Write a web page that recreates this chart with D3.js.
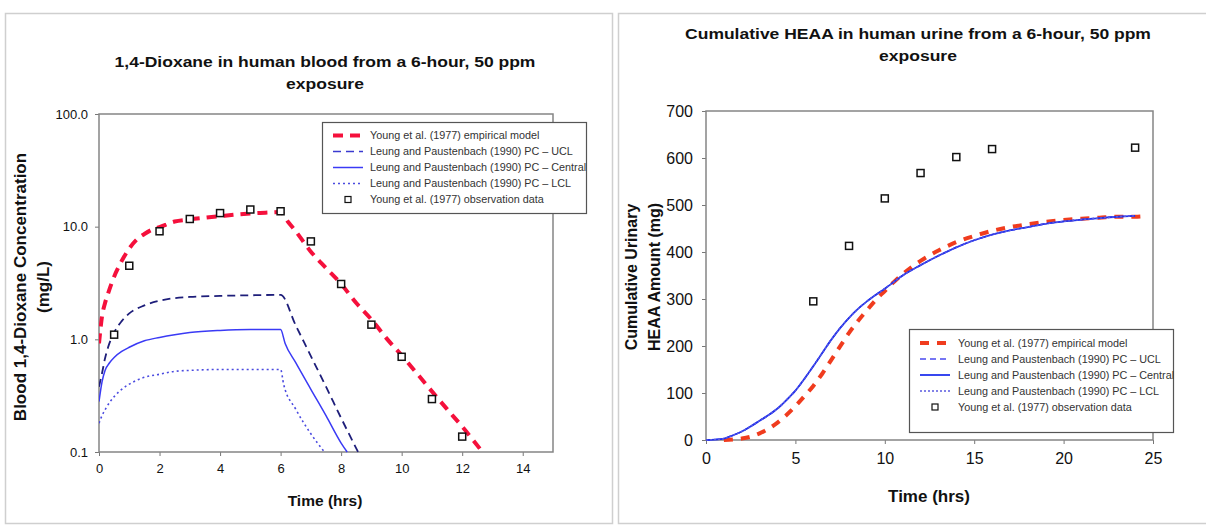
<!DOCTYPE html>
<html>
<head>
<meta charset="utf-8">
<script src="https://cdnjs.cloudflare.com/ajax/libs/d3/7.8.5/d3.min.js"></script>
<style>
  body { margin: 0; background: #fff; }
  svg { display: block; font-family: "Liberation Sans", Arial, sans-serif; }
</style>
</head>
<body>
<svg id="chart" width="1206" height="527"></svg>
<script>
// ---- left chart: blood concentration (mg/L), log scale ----
const bloodEmpirical = [[0,0.92],[0.1,1.6],[0.2,2.1],[0.3,2.55],[0.5,3.6],[0.65,4.4],[1,6.4],[1.25,7.7],[1.5,8.6],[1.75,9.4],[2,9.9],[2.5,11.1],[3,11.6],[3.5,12],[4,12.4],[4.5,12.8],[5,13.1],[5.5,13.3],[6,13.5],[6.25,11],[6.5,9.1],[7,6.0],[7.5,4.3],[8,3.1],[8.5,2.1],[9,1.5],[9.5,1.02],[10,0.72],[10.5,0.5],[11,0.345],[11.5,0.24],[12,0.168],[12.67,0.1]];
const bloodUCL = [[0,0.38],[0.1,0.5],[0.2,0.68],[0.3,0.85],[0.5,1.15],[0.75,1.45],[1,1.7],[1.5,2.0],[2,2.2],[2.5,2.32],[3,2.38],[4,2.43],[5,2.46],[6,2.48],[6.5,1.33],[7,0.71],[7.5,0.38],[8,0.2],[8.56,0.1]];
const bloodCentral = [[0,0.28],[0.1,0.42],[0.2,0.53],[0.35,0.62],[0.5,0.69],[0.75,0.78],[1,0.85],[1.5,0.97],[2,1.04],[2.5,1.1],[3,1.15],[4,1.2],[5,1.22],[6,1.22],[6.15,0.92],[6.5,0.62],[7,0.36],[7.5,0.21],[8,0.12],[8.2,0.1]];
const bloodLCL = [[0,0.18],[0.1,0.21],[0.25,0.25],[0.5,0.31],[0.75,0.36],[1,0.4],[1.5,0.46],[2,0.49],[2.5,0.52],[3,0.53],[4,0.54],[5,0.54],[6,0.54],[6.1,0.4],[6.5,0.24],[7,0.145],[7.45,0.1]];
const bloodObs = [[0.5,1.1],[1,4.5],[2,9.1],[3,11.7],[4,13.2],[5,14.2],[6,13.7],[7,7.4],[8,3.1],[9,1.35],[10,0.7],[11,0.295],[12,0.137]];
const bloodXTicks = [0, 2, 4, 6, 8, 10, 12, 14];
const bloodYTicks = [0.1, 1, 10, 100];

// ---- right chart: cumulative urinary HEAA (mg) ----
const urineEmpirical = [[1,0],[1.5,1],[2,3],[2.5,7],[3,14],[3.5,24],[4,37],[4.5,53],[5,72],[5.5,93],[6,115],[6.5,141],[7,170],[7.5,199],[8,228],[8.5,253],[9,276],[9.5,298],[10,317],[10.5,336],[11,353],[12,381],[13,403],[14,421],[15,434],[16,445],[17,453],[18,459],[19,464],[20,468],[21,471],[22,473],[23,475],[24,475],[24.5,476]];
const urineCentral = [[0,0],[0.5,1],[1,3],[1.5,10],[2,18],[2.5,29],[3,41],[3.5,53],[4,67],[4.5,85],[5,105],[5.5,130],[6,157],[6.5,185],[7,213],[7.5,238],[8,260],[8.5,279],[9,295],[9.5,309],[10,322],[11,350],[12,372],[13,392],[14,410],[15,425],[16,437],[17,446],[18,453],[19,460],[20,465],[21,469],[22,472],[23,475],[24,477]];
// UCL and LCL lie under the central curve in the picture
const urineUCL = urineCentral;
const urineLCL = urineCentral;
const urineObs = [[6,295],[8,413],[10,514],[12,568],[14,602],[16,619],[24,622]];
const urineXTicks = [0, 5, 10, 15, 20, 25];
const urineYTicks = [0, 100, 200, 300, 400, 500, 600, 700];

const legendLabels = [
  "Young et al. (1977) empirical model",
  "Leung and Paustenbach (1990) PC \u2013 UCL",
  "Leung and Paustenbach (1990) PC \u2013 Central",
  "Leung and Paustenbach (1990) PC \u2013 LCL",
  "Young et al. (1977) observation data"
];

const svg = d3.select("#chart");

// panel frames
svg.append("rect").attr("x", 5.5).attr("y", 13.5).attr("width", 607).attr("height", 510)
  .attr("fill", "#fff").attr("stroke", "#cfcfcf").attr("stroke-width", 1.5);
svg.append("rect").attr("x", 618.5).attr("y", 13.5).attr("width", 600).attr("height", 510)
  .attr("fill", "#fff").attr("stroke", "#cfcfcf").attr("stroke-width", 1.5);

function drawChart(cfg) {
  const g = svg.append("g");
  const { box } = cfg;
  const x = d3.scaleLinear().domain(cfg.xDomain).range([box.x0, box.x1]);
  const y = cfg.yScale.range([box.y1, box.y0]);

  // titles (the source picture is stretched sideways a little)
  cfg.title.forEach((t, i) => {
    g.append("text")
      .attr("transform", `translate(${cfg.titleX},${cfg.titleY + i * 22}) scale(1.13,1)`)
      .attr("text-anchor", "middle").attr("font-size", 15.5).attr("font-weight", "bold")
      .attr("fill", "#111").text(t);
  });

  // axes
  g.append("g").attr("transform", `translate(0,${box.y1})`)
    .call(d3.axisBottom(x).tickValues(cfg.xTicks).tickSize(4).tickPadding(cfg.xPad))
    .call(a => a.select(".domain").remove())
    .call(a => a.selectAll("line").attr("stroke", "#777"))
    .call(a => a.selectAll("text").attr("font-size", cfg.tickSize).attr("fill", "#111").attr("font-family", null));
  g.append("g").attr("transform", `translate(${box.x0},0)`)
    .call(d3.axisLeft(y).tickValues(cfg.yTicks).tickFormat(cfg.yFormat).tickSize(4).tickPadding(cfg.yPad))
    .call(a => a.select(".domain").remove())
    .call(a => a.selectAll("line").attr("stroke", "#777"))
    .call(a => a.selectAll("text").attr("font-size", cfg.tickSize).attr("fill", "#111").attr("font-family", null));

  // plot frame
  g.append("rect").attr("x", box.x0).attr("y", box.y0)
    .attr("width", box.x1 - box.x0).attr("height", box.y1 - box.y0)
    .attr("fill", "none").attr("stroke", "#858585").attr("stroke-width", 1.5);

  // axis labels
  g.append("text").attr("x", cfg.xLabelX).attr("y", cfg.xLabelY)
    .attr("text-anchor", "middle").attr("font-size", cfg.xLabelSize).attr("font-weight", "bold")
    .attr("fill", "#111").text("Time (hrs)");
  cfg.yLabel.forEach((t, i) => {
    g.append("text")
      .attr("transform", `translate(${cfg.yLabelX + i * 23},${cfg.yLabelY}) rotate(-90)`)
      .attr("text-anchor", "middle").attr("font-size", cfg.yLabelSize).attr("font-weight", "bold")
      .attr("fill", "#111").text(t);
  });

  // clip
  const clipId = "clip-" + cfg.id;
  svg.append("clipPath").attr("id", clipId).append("rect")
    .attr("x", box.x0).attr("y", box.y0 - 5)
    .attr("width", box.x1 - box.x0 + 5).attr("height", box.y1 - box.y0 + 8);
  const plot = g.append("g").attr("clip-path", `url(#${clipId})`);

  const line = d3.line().x(d => x(d[0])).y(d => y(d[1])).curve(d3.curveMonotoneX);

  cfg.series.forEach(s => {
    plot.append("path").datum(s.data)
      .attr("d", line)
      .attr("fill", "none")
      .attr("stroke", s.color)
      .attr("stroke-width", s.width)
      .attr("stroke-dasharray", s.dash || null);
  });

  plot.selectAll(".obs").data(cfg.obs).enter().append("rect")
    .attr("class", "obs")
    .attr("x", d => x(d[0]) - 3.5).attr("y", d => y(d[1]) - 3.5)
    .attr("width", 7).attr("height", 7)
    .attr("fill", "#fff").attr("stroke", "#111").attr("stroke-width", 1.5);

  // legend
  const lg = cfg.legend;
  g.append("rect").attr("x", lg.x).attr("y", lg.y).attr("width", lg.w).attr("height", lg.h)
    .attr("fill", "#fff").attr("stroke", "#555").attr("stroke-width", 1.2);
  legendLabels.forEach((label, i) => {
    const ry = lg.row0 + i * lg.step;
    const s = cfg.series[i];
    if (s) {
      g.append("line").attr("x1", lg.sx0).attr("x2", lg.sx1).attr("y1", ry).attr("y2", ry)
        .attr("stroke", s.legendColor || s.color).attr("stroke-width", s.legendWidth || s.width)
        .attr("stroke-dasharray", s.dash || null);
    } else {
      g.append("rect").attr("x", (lg.sx0 + lg.sx1) / 2 - 3).attr("y", ry - 3)
        .attr("width", 6).attr("height", 6)
        .attr("fill", "#fff").attr("stroke", "#111").attr("stroke-width", 1.2);
    }
    g.append("text").attr("x", lg.tx).attr("y", ry + 3.8)
      .attr("font-size", 10.8).attr("fill", "#333").text(label);
  });
}

drawChart({
  id: "blood",
  box: { x0: 99, x1: 553, y0: 114, y1: 452 },
  xDomain: [0, 15],
  yScale: d3.scaleLog().domain([0.1, 100]),
  xTicks: bloodXTicks,
  yTicks: bloodYTicks,
  yFormat: d3.format(".1f"),
  tickSize: 13, xPad: 8, yPad: 7,
  title: ["1,4-Dioxane in human blood from a 6-hour, 50 ppm", "exposure"],
  titleX: 325, titleY: 67,
  xLabelX: 325, xLabelY: 506, xLabelSize: 15.5,
  yLabel: ["Blood 1,4-Dioxane Concentration", "(mg/L)"],
  yLabelX: 26, yLabelY: 287, yLabelSize: 17,
  series: [
    { data: bloodEmpirical, color: "#f5103c", width: 4, dash: "10,7" },
    { data: bloodUCL, color: "#1e1e7a", width: 1.8, dash: "8,5", legendWidth: 1.3, legendColor: "#3a3ad0" },
    { data: bloodCentral, color: "#3a3af5", width: 1.5 },
    { data: bloodLCL, color: "#4a4ae0", width: 1.6, dash: "2,3" }
  ],
  obs: bloodObs,
  legend: { x: 322.5, y: 122.5, w: 264, h: 91, row0: 135.5, step: 16, sx0: 333, sx1: 363, tx: 370 }
});

drawChart({
  id: "urine",
  box: { x0: 706, x1: 1153, y0: 111, y1: 440 },
  xDomain: [0, 25],
  yScale: d3.scaleLinear().domain([0, 700]),
  xTicks: urineXTicks,
  yTicks: urineYTicks,
  yFormat: d3.format("d"),
  tickSize: 16, xPad: 9, yPad: 9,
  title: ["Cumulative HEAA in human urine from a 6-hour, 50 ppm", "exposure"],
  titleX: 918, titleY: 39,
  xLabelX: 929, xLabelY: 502, xLabelSize: 17,
  yLabel: ["Cumulative Urinary", "HEAA Amount (mg)"],
  yLabelX: 637, yLabelY: 277, yLabelSize: 16,
  series: [
    { data: urineEmpirical, color: "#f03c1e", width: 4, dash: "9,8" },
    { data: urineUCL, color: "#4a4af0", width: 1.5, dash: "6,4" },
    { data: urineCentral, color: "#2233ee", width: 1.8 },
    { data: urineLCL, color: "#5a5ae0", width: 1.5, dash: "2,2" }
  ],
  obs: urineObs,
  legend: { x: 909.5, y: 329.5, w: 264, h: 103, row0: 343, step: 16, sx0: 920, sx1: 950, tx: 958 }
});
</script>
</body>
</html>
